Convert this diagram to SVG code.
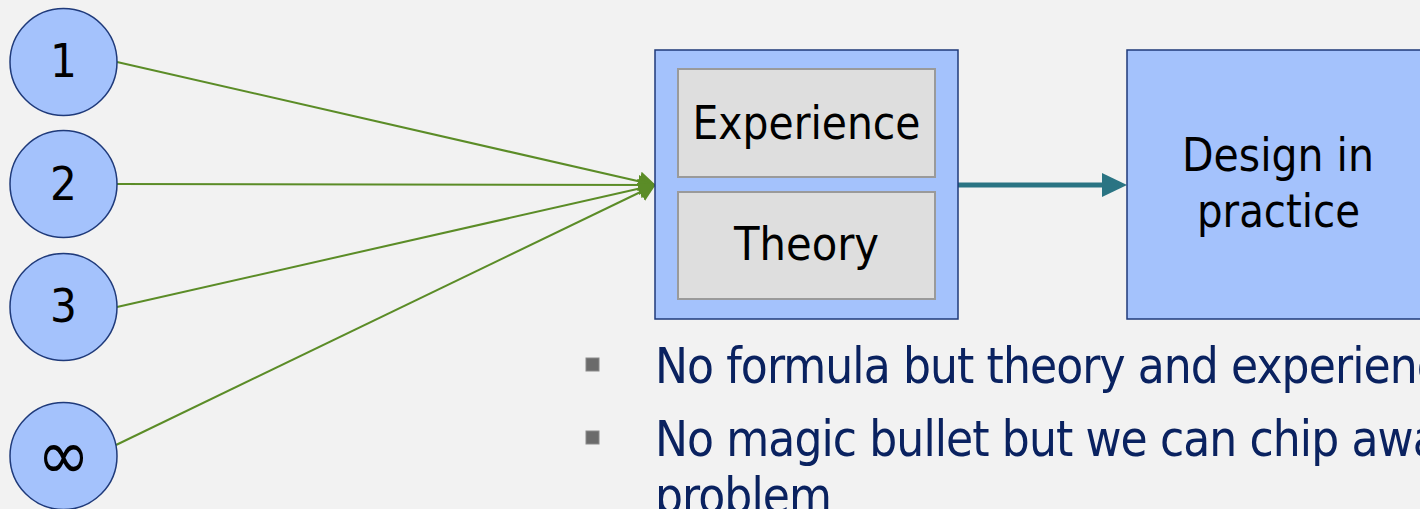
<svg xmlns="http://www.w3.org/2000/svg" width="1420" height="509" viewBox="0 0 1420 509">
  <style>
    .lbl { font-family: "DejaVu Sans Condensed", "DejaVu Sans", sans-serif; font-stretch: condensed; fill: #000; text-anchor: middle; }
    .num { font-size: 47px; }
    .inf { font-size: 70px; }
    .box-txt { font-size: 47px; }
    .src { fill: #a4c2fc; stroke: #1f3a7a; stroke-width: 1.5; }
    .part { fill: #dedede; stroke: #9a9a9a; stroke-width: 2; }
    .feed { stroke: #5b8c27; stroke-width: 2; fill: none; marker-end: url(#head-green); }
    .flow { stroke: #2a7483; stroke-width: 5; fill: none; stroke-linecap: round; marker-end: url(#head-teal); }
    .bullet-txt { font-family: "DejaVu Sans Condensed", "DejaVu Sans", sans-serif; font-stretch: condensed; font-size: 49px; letter-spacing: -0.9px; fill: #0a2260; }
    .bullet { fill: #6b6b6b; stroke: #8a8a8a; stroke-width: 1; }
  </style>
  <defs>
    <marker id="head-green" markerUnits="userSpaceOnUse" markerWidth="17" markerHeight="20" viewBox="0 0 17 20" refX="16" refY="10" orient="auto">
      <path d="M0,0 L17,10 L0,20 z" fill="#5b8c27"/>
    </marker>
    <marker id="head-teal" markerUnits="userSpaceOnUse" markerWidth="25" markerHeight="24" viewBox="0 0 25 24" refX="3" refY="12" orient="auto">
      <path d="M0,0 L25,12 L0,24 z" fill="#2a7483"/>
    </marker>
  </defs>

  <rect x="0" y="0" width="1420" height="509" fill="#f2f2f2"/>

  <!-- incoming case connectors and the flow arrow -->
  <g id="connectors">
    <line class="feed" x1="117" y1="62" x2="655" y2="185"/>
    <line class="feed" x1="117" y1="184" x2="655" y2="185"/>
    <line class="feed" x1="117" y1="307" x2="655" y2="185"/>
    <line class="feed" x1="116" y1="445" x2="655" y2="185"/>
    <line class="flow" x1="958" y1="185" x2="1105" y2="185"/>
  </g>

  <g id="case-1">
    <circle class="src" cx="63.5" cy="62" r="53.5"/>
    <text class="lbl num" x="63.5" y="77">1</text>
  </g>
  <g id="case-2">
    <circle class="src" cx="63.5" cy="184" r="53.5"/>
    <text class="lbl num" x="63.5" y="200">2</text>
  </g>
  <g id="case-3">
    <circle class="src" cx="63.5" cy="307" r="53.5"/>
    <text class="lbl num" x="63.5" y="322">3</text>
  </g>
  <g id="case-n">
    <circle class="src" cx="63.5" cy="456" r="53.5"/>
    <text class="lbl inf" x="63.5" y="479">∞</text>
  </g>

  <g id="knowledge">
    <rect class="src" x="655" y="50" width="303" height="269"/>
    <g id="experience">
      <rect class="part" x="678" y="69" width="257" height="108"/>
      <text class="lbl box-txt" x="806.5" y="139" textLength="228" lengthAdjust="spacingAndGlyphs">Experience</text>
    </g>
    <g id="theory">
      <rect class="part" x="678" y="192" width="257" height="107"/>
      <text class="lbl box-txt" x="806.5" y="260" textLength="145" lengthAdjust="spacingAndGlyphs">Theory</text>
    </g>
  </g>

  <g id="design">
    <rect class="src" x="1127" y="50" width="310" height="269"/>
    <text class="lbl box-txt" x="1278" y="171" textLength="192" lengthAdjust="spacingAndGlyphs">Design in</text>
    <text class="lbl box-txt" x="1278.5" y="227" textLength="163" lengthAdjust="spacingAndGlyphs">practice</text>
  </g>

  <g id="notes">
    <rect class="bullet" x="586" y="358" width="13" height="13"/>
    <text class="bullet-txt" x="655" y="383">No formula but theory and experience</text>
    <rect class="bullet" x="586" y="431" width="13" height="13"/>
    <text class="bullet-txt" x="655" y="456">No magic bullet but we can chip away</text>
    <text class="bullet-txt" x="655" y="513">problem</text>
  </g>
</svg>
